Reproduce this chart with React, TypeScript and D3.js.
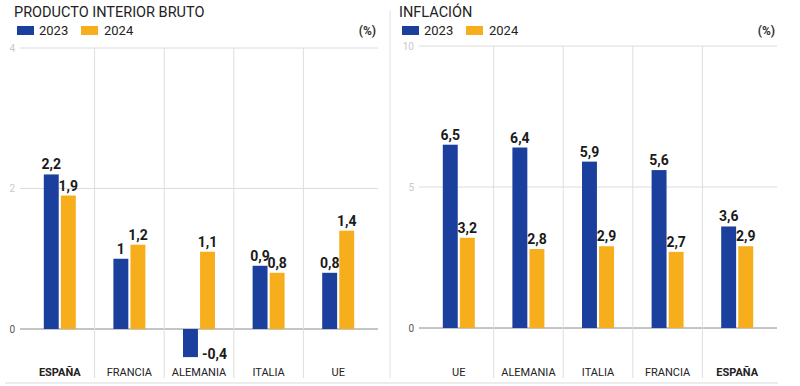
import React from "react";
import * as d3 from "d3";

const gdpCategories = ["ESPAÑA", "FRANCIA", "ALEMANIA", "ITALIA", "UE"];
const gdp2023 = [2.2, 1, -0.4, 0.9, 0.8];
const gdp2024 = [1.9, 1.2, 1.1, 0.8, 1.4];
const gdpTicks = [0, 2, 4];

const infCategories = ["UE", "ALEMANIA", "ITALIA", "FRANCIA", "ESPAÑA"];
const inf2023 = [6.5, 6.4, 5.9, 5.6, 3.6];
const inf2024 = [3.2, 2.8, 2.9, 2.7, 2.9];
const infTicks = [0, 5, 10];

const seriesNames = ["2023", "2024"];
const BLUE = "#1a3f9c";
const ORANGE = "#f7ae1d";
const FONT = "Roboto, 'Noto Sans', sans-serif";

const fmt = (v: number) => String(v).replace(".", ",");

type PanelProps = {
  ox: number;
  hx: number;
  title: string;
  categories: string[];
  a: number[];
  b: number[];
  ticks: number[];
  yMax: number;
  yTop: number;
  yZero: number;
  bold: string;
};

function Panel({ ox, hx, title, categories, a, b, ticks, yMax, yTop, yZero, bold }: PanelProps) {
  const y = d3.scaleLinear().domain([0, yMax]).range([yZero, yTop]);
  const x = d3.scaleBand<string>().domain(categories).range([ox + 25, ox + 373]).paddingInner(0).paddingOuter(0);
  const sub = d3.scaleBand<string>().domain(seriesNames).range([0, 32]).paddingInner(0.125);
  const gridL = ox + 20;
  const gridR = ox + 378;
  const y0 = y(0);
  const boundaries = categories.slice(1).map((c) => x(c) as number);
  return (
    <g>
      <text x={hx + 14} y={17} fontSize={14.5} fill="#222" fontFamily={FONT}>{title}</text>
      <rect x={hx + 17} y={26} width={17} height={9} fill={BLUE} />
      <text x={hx + 39} y={35} fontSize={13} fill="#222" fontFamily={FONT}>{seriesNames[0]}</text>
      <rect x={hx + 81} y={26} width={17} height={9} fill={ORANGE} />
      <text x={hx + 104} y={35} fontSize={13} fill="#222" fontFamily={FONT}>{seriesNames[1]}</text>
      <text x={gridR - 2} y={35} fontSize={12} fontWeight="bold" textAnchor="end" fill="#333" fontFamily={FONT}>(%)</text>
      {ticks.map((t) => (
        <g key={t}>
          <line x1={gridL} x2={gridR} y1={y(t)} y2={y(t)} stroke={t === 0 ? "#8a8a8a" : "#dcdcdc"} strokeWidth={1} />
          <text x={ox + 15} y={y(t) + 3.5} fontSize={10} textAnchor="end" fill={t === 0 ? "#555" : "#c8c8c8"} fontFamily={FONT}>{t}</text>
        </g>
      ))}
      {boundaries.map((bx, i) => (
        <line key={i} x1={bx} x2={bx} y1={y(yMax)} y2={378} stroke="#dedede" strokeWidth={1} />
      ))}
      {categories.map((c, i) => {
        const vals = [a[i], b[i]];
        return (
          <g key={c}>
            {vals.map((v, j) => {
              const bx = (x(c) as number) + (x.bandwidth() - 32) / 2 + (sub(seriesNames[j]) as number);
              const bw = sub.bandwidth();
              const top = Math.min(y(v), y0);
              const h = Math.abs(y(v) - y0);
              return (
                <g key={j}>
                  <rect x={bx} y={top} width={bw} height={h} fill={j === 0 ? BLUE : ORANGE} />
                  {v >= 0 ? (
                    <text x={bx + bw / 2} y={y(v) - 5} fontSize={14} fontWeight="bold" textAnchor="middle" fill="#1a1a1a" fontFamily={FONT}>{fmt(v)}</text>
                  ) : (
                    <text x={bx + bw + 4} y={y(v) + 2} fontSize={14} fontWeight="bold" textAnchor="start" fill="#1a1a1a" fontFamily={FONT}>{fmt(v)}</text>
                  )}
                </g>
              );
            })}
            <text x={(x(c) as number) + x.bandwidth() / 2} y={376} fontSize={11} textAnchor="middle" fontWeight={c === bold ? "bold" : "normal"} fill="#222" fontFamily={FONT}>{c}</text>
          </g>
        );
      })}
    </g>
  );
}

export default function App() {
  return (
    <svg width={800} height={386} style={{ position: "absolute", left: 0, top: 0, background: "#fff" }}>
      <rect width={800} height={386} fill="#fff" />
      <Panel ox={0} hx={0} title="PRODUCTO INTERIOR BRUTO" categories={gdpCategories} a={gdp2023} b={gdp2024} ticks={gdpTicks} yMax={4} yTop={48} yZero={329} bold="ESPAÑA" />
      <Panel ox={399} hx={385} title="INFLACIÓN" categories={infCategories} a={inf2023} b={inf2024} ticks={infTicks} yMax={10} yTop={46} yZero={328} bold="ESPAÑA" />
      <line x1={390} x2={390} y1={10} y2={378} stroke="#e2e2e2" strokeWidth={1} />
      <line x1={5} x2={778} y1={383} y2={383} stroke="#ececec" strokeWidth={2} />
    </svg>
  );
}
